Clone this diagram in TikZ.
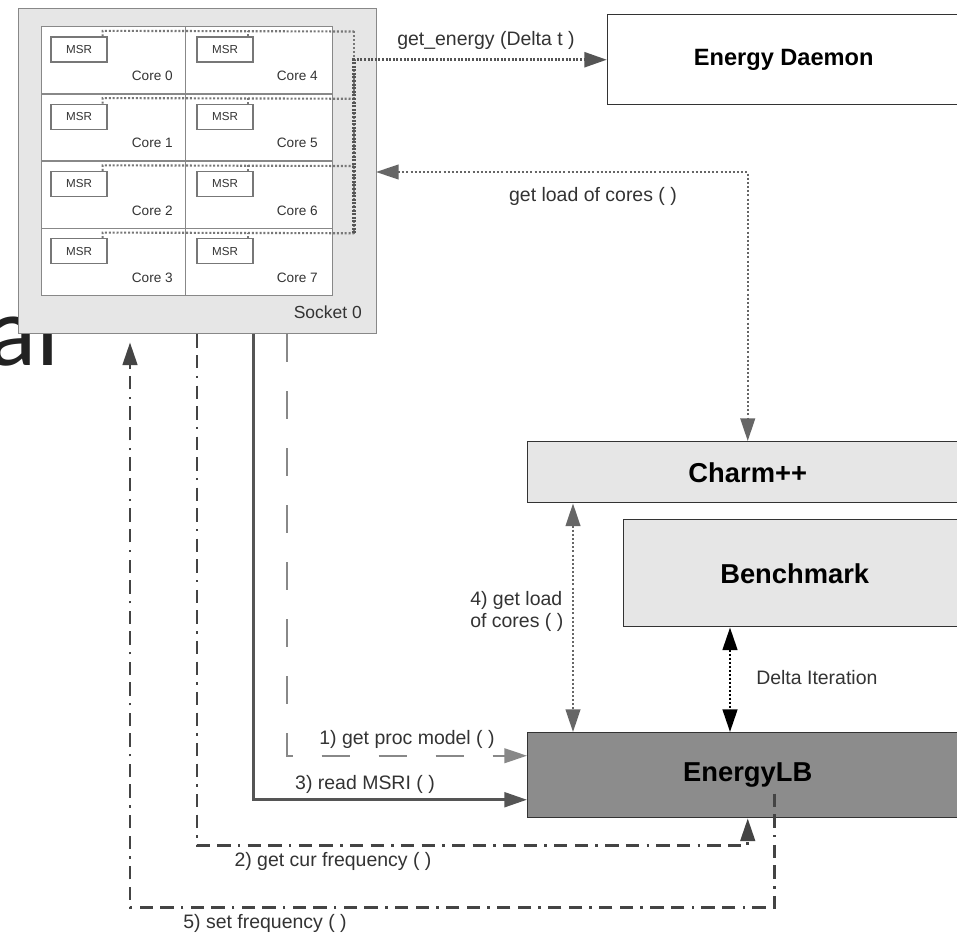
\documentclass[tikz,border=0pt]{standalone}
\usepackage{fontspec}
\setmainfont{Liberation Sans}
\newfontfamily\calfont{Carlito}
\usetikzlibrary{arrows.meta,calc}
\newlength\pu
\setlength\pu{0.75pt}
\definecolor{cE6}{HTML}{E6E6E6}
\definecolor{c8c}{HTML}{8C8C8C}
\definecolor{c888}{HTML}{888888}
\definecolor{c777}{HTML}{777777}
\definecolor{c666}{HTML}{666666}
\definecolor{c555}{HTML}{555555}
\definecolor{c444}{HTML}{444444}
\definecolor{c333}{HTML}{333333}
\definecolor{c222}{HTML}{222222}
\begin{document}
\begin{tikzpicture}[x=0.75pt,y=-0.75pt,
  bigbox/.style={draw=c333, line width=1.1pt, inner sep=0, anchor=north west},
  bigfont/.style={font=\bfseries\fontsize{20.5}{24}\selectfont},
  cell/.style={draw=c888, fill=white, line width=1.1pt, inner sep=0, anchor=north west, minimum height=67.25\pu},
  msr/.style={draw=c777, fill=white, line width=1pt, inner sep=0, minimum width=56\pu, minimum height=25\pu, font=\fontsize{8.7}{10}\selectfont, text=c333},
  corelbl/.style={font=\fontsize{10.2}{12}\selectfont, text=c333, inner sep=0, anchor=east},
  lbl/.style={font=\fontsize{14.6}{16.5}\selectfont, text=c333, inner sep=0},
  tipA/.style={-{Triangle[length=17pt,width=11pt]}},
  tipsAB/.style={{Triangle[length=17pt,width=11pt]}-{Triangle[length=17pt,width=11pt]}},
  busline/.style={draw=c777, line width=1.6pt, dash pattern=on 1.5pt off 1.4pt},
  energyline/.style={draw=c555, line width=2.6pt, dash pattern=on 1.5pt off 1.2pt},
  loadline/.style={draw=c666, line width=1.6pt, dash pattern=on 1.5pt off 1.6pt},
  deltaline/.style={draw=black, line width=1.9pt, dash pattern=on 1.5pt off 1.5pt},
  procline/.style={draw=c888, line width=1.5pt, dash pattern=on 21pt off 21.75pt},
  msrline/.style={draw=c555, line width=2.25pt},
  freqline/.style={draw=c444, line width=1.9pt, dash pattern=on 10pt off 5.5pt on 10pt off 5.5pt on 1.8pt off 5.5pt}
]
\useasboundingbox (0,0) rectangle (957,934);
\fill[white] (0,0) rectangle (957,934);

% background slide fragment
\node[font=\calfont\fontsize{75}{85}\selectfont, text=c222, inner sep=0, anchor=base east] (bgal) at (60,366) {al};

% socket
\node[draw=c888, fill=cE6, line width=1.1pt, anchor=north west, minimum width=358\pu, minimum height=325\pu, inner sep=0] (socket) at (18,8) {};
\node[font=\fontsize{13.1}{15}\selectfont, text=c333, inner sep=0, anchor=east] (sock0) at (362,312) {Socket 0};

\foreach \r in {0,...,3} {
  \pgfmathsetmacro\yt{26+67.25*\r}
  \pgfmathtruncatemacro\rb{\r+4}
  \node[cell, minimum width=144\pu] (cellA\r) at (41,\yt) {};
  \node[cell, minimum width=147\pu] (cellB\r) at (185,\yt) {};
  \node[msr] (msrA\r) at (79,\yt+23.5) {MSR};
  \node[msr] (msrB\r) at (225,\yt+23.5) {MSR};
  \node[corelbl] (coreA\r) at (173,\yt+50) {Core \r};
  \node[corelbl] (coreB\r) at (318,\yt+50) {Core \rb};
  \coordinate (busR\r) at (354,\yt+5.5);
  \draw[busline] ([xshift=-5\pu]msrA\r.north east) -- ++(0,-5.5) -- (busR\r);
  \draw[busline] ([xshift=-6\pu]msrB\r.north east) -- ++(0,-5.5);
}
\draw[busline] (busR0) -- (busR3);

% boxes
\node[bigbox, fill=white, minimum width=352\pu, minimum height=90\pu, font=\bfseries\fontsize{17.7}{20}\selectfont] (daemon) at (607,14) {Energy Daemon};
\node[bigbox, bigfont, fill=cE6, minimum width=440\pu, minimum height=61\pu] (charm) at (527,441) {Charm++};
\node[bigbox, bigfont, fill=cE6, minimum width=342\pu, minimum height=107\pu] (bench) at (623,519) {Benchmark};
\node[bigbox, bigfont, fill=c8c, minimum width=440\pu, minimum height=85\pu] (elb) at (527,732) {EnergyLB};

% get_energy
\draw[energyline, tipA] (busR3) |- (daemon.west);
\node[lbl] (lblenergy) at (486,40) {get\_energy (Delta t )};

% get load of cores (top)
\coordinate (sockR) at (376,172);
\draw[loadline, tipsAB] (sockR) -| (charm.north);
\node[lbl] (lblload) at (593,196) {get load of cores ( )};

% 4) get load of cores
\draw[loadline, tipsAB] ([xshift=46\pu]charm.south west) -- ([xshift=46\pu]elb.north west);
\node[lbl, align=left, anchor=west] (lbl4) at (470,611) {4) get load\\of cores ( )};

% Delta Iteration
\draw[deltaline, tipsAB] ([xshift=107\pu]bench.south west) -- ([xshift=203\pu]elb.north west);
\node[lbl, anchor=west] (lbldelta) at (756,678) {Delta Iteration};

% 1) get proc model
\draw[procline, tipA] ([xshift=269\pu]socket.south west) |- ([yshift=19.5\pu]elb.west);
\node[lbl] (lbl1) at (407,739) {1) get proc model ( )};

% 3) read MSRI
\draw[msrline, tipA] ([xshift=235\pu]socket.south west) |- ([yshift=-24.5\pu]elb.west);
\node[lbl] (lbl3) at (365,784) {3) read MSRI ( )};

% 2) get cur frequency
\draw[freqline, tipA] ([xshift=179\pu]socket.south west) |- ([yshift=-27\pu]elb.south) -- (elb.south);
\node[lbl] (lbl2) at (333,861) {2) get cur frequency ( )};

% 5) set frequency
\coordinate (setstart) at ([xshift=27\pu,yshift=-18.5\pu]elb.center);
\draw[freqline, tipA, shorten >=6pt] (setstart) |- ([xshift=112\pu,yshift=-573\pu]socket.south west) -- ([xshift=112\pu]socket.south west);
\node[lbl] (lbl5) at (265,923) {5) set frequency ( )};
\end{tikzpicture}
\end{document}
